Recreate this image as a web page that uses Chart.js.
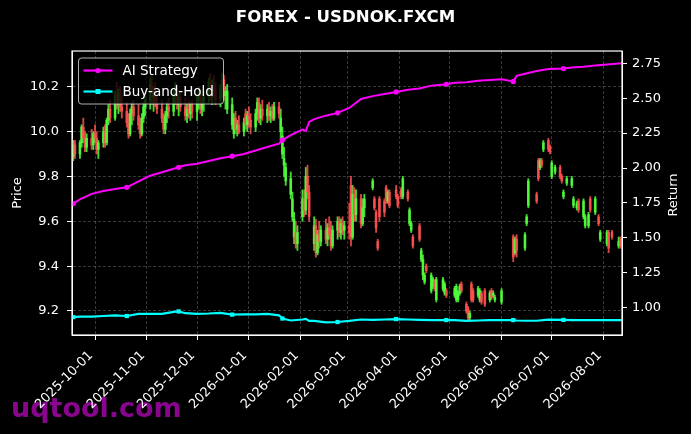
<!DOCTYPE html>
<html>
<head>
<meta charset="utf-8">
<script src="https://cdn.jsdelivr.net/npm/chart.js@4.4.1/dist/chart.umd.min.js"></script>
<style>
  html, body { margin: 0; padding: 0; background: #000; }
  #wrap { width: 691px; height: 434px; }
</style>
</head>
<body>
<div id="wrap"><canvas id="c" width="691" height="434"></canvas></div>
<script>
// ---------------- DATA ----------------
const chartTitle = 'FOREX - USDNOK.FXCM';
const seriesNames = ['AI Strategy', 'Buy-and-Hold'];

// daily candles: [date, open, high, low, close]
const candles = [
['2025-09-17',9.95,9.97,9.87,9.89],['2025-09-18',9.89,9.96,9.87,9.94],['2025-09-19',9.94,9.96,9.88,9.90],
['2025-09-22',9.90,9.96,9.88,9.95],['2025-09-23',9.95,10.03,9.93,10.02],['2025-09-24',10.02,10.06,9.95,9.97],
['2025-09-25',9.97,10.00,9.91,9.93],['2025-09-26',9.93,9.99,9.91,9.97],['2025-09-29',9.97,10.01,9.92,9.94],
['2025-09-30',9.94,10.00,9.92,9.99],['2025-10-01',9.99,10.03,9.95,9.97],['2025-10-02',9.97,10.00,9.90,9.92],
['2025-10-03',9.92,9.96,9.88,9.95],['2025-10-06',9.95,10.02,9.93,10.00],['2025-10-07',10.00,10.03,9.93,9.95],
['2025-10-08',9.95,10.06,9.94,10.05],['2025-10-09',10.05,10.12,10.03,10.10],['2025-10-10',10.10,10.14,10.04,10.06],
['2025-10-13',10.06,10.18,10.05,10.16],['2025-10-14',10.16,10.22,10.10,10.12],['2025-10-15',10.12,10.19,10.08,10.17],
['2025-10-16',10.17,10.20,10.09,10.11],['2025-10-17',10.11,10.16,10.06,10.09],['2025-10-20',10.09,10.13,10.02,10.04],
['2025-10-21',10.04,10.08,9.97,9.99],['2025-10-22',9.99,10.10,9.98,10.08],['2025-10-23',10.08,10.13,10.03,10.11],
['2025-10-24',10.11,10.14,10.05,10.07],['2025-10-27',10.07,10.12,10.01,10.03],['2025-10-28',10.03,10.06,9.97,9.99],
['2025-10-29',9.99,10.08,9.98,10.06],['2025-10-30',10.06,10.13,10.04,10.11],['2025-10-31',10.11,10.16,10.07,10.14],
['2025-11-03',10.14,10.24,10.10,10.21],['2025-11-04',10.21,10.25,10.12,10.15],['2025-11-05',10.15,10.20,10.09,10.18],
['2025-11-06',10.18,10.22,10.11,10.13],['2025-11-07',10.13,10.17,10.08,10.10],['2025-11-10',10.10,10.14,10.04,10.06],
['2025-11-11',10.06,10.08,9.99,10.01],['2025-11-12',10.01,10.09,9.99,10.07],['2025-11-13',10.07,10.13,10.04,10.11],
['2025-11-14',10.11,10.15,10.06,10.09],['2025-11-17',10.09,10.18,10.07,10.16],['2025-11-18',10.16,10.22,10.12,10.19],
['2025-11-19',10.19,10.21,10.10,10.12],['2025-11-20',10.12,10.17,10.07,10.15],['2025-11-21',10.15,10.18,10.09,10.11],
['2025-11-24',10.11,10.15,10.05,10.07],['2025-11-25',10.07,10.12,10.04,10.10],['2025-11-26',10.10,10.14,10.06,10.08],
['2025-11-27',10.08,10.13,10.05,10.12],['2025-11-28',10.12,10.14,10.06,10.09],['2025-12-01',10.09,10.16,10.05,10.14],
['2025-12-02',10.14,10.20,10.10,10.17],['2025-12-03',10.17,10.19,10.08,10.10],['2025-12-04',10.10,10.15,10.07,10.13],
['2025-12-05',10.13,10.18,10.09,10.16],['2025-12-08',10.16,10.24,10.13,10.22],['2025-12-09',10.22,10.26,10.14,10.17],
['2025-12-10',10.17,10.23,10.12,10.20],['2025-12-11',10.20,10.25,10.15,10.18],['2025-12-12',10.18,10.22,10.12,10.14],
['2025-12-15',10.14,10.21,10.11,10.19],['2025-12-16',10.19,10.26,10.15,10.23],['2025-12-17',10.23,10.25,10.14,10.16],
['2025-12-18',10.16,10.20,10.10,10.18],['2025-12-19',10.10,10.21,10.08,10.18],['2025-12-22',10.03,10.15,10.01,10.12],
['2025-12-23',9.99,10.08,9.97,10.06],['2025-12-24',10.06,10.09,9.99,10.01],['2025-12-25',10.01,10.05,9.98,10.03],
['2025-12-26',10.03,10.07,9.99,10.00],['2025-12-29',10.00,10.06,9.98,10.04],['2025-12-30',10.08,10.10,10.01,10.03],
['2025-12-31',10.03,10.09,10.00,10.07],['2026-01-01',10.07,10.11,10.02,10.05],['2026-01-02',10.05,10.08,9.99,10.02],
['2026-01-05',10.02,10.10,10.00,10.08],['2026-01-06',10.08,10.15,10.05,10.13],['2026-01-07',10.13,10.15,10.04,10.06],
['2026-01-08',10.06,10.12,10.03,10.10],['2026-01-09',10.10,10.14,10.05,10.07],['2026-01-12',10.07,10.12,10.04,10.10],
['2026-01-13',10.10,10.13,10.05,10.07],['2026-01-14',10.07,10.11,10.04,10.09],['2026-01-15',10.09,10.12,10.05,10.06],
['2026-01-16',10.06,10.13,10.05,10.11],['2026-01-19',10.11,10.13,10.06,10.08],['2026-01-20',10.00,10.10,9.96,10.06],
['2026-01-21',9.90,10.02,9.88,9.98],['2026-01-22',9.85,9.93,9.80,9.88],['2026-01-23',9.78,9.86,9.76,9.84],
['2026-01-26',9.72,9.82,9.70,9.79],['2026-01-27',9.62,9.73,9.60,9.70],['2026-01-28',9.53,9.64,9.50,9.61],
['2026-01-29',9.55,9.60,9.48,9.50],['2026-01-30',9.50,9.58,9.47,9.55],['2026-02-02',9.62,9.74,9.60,9.70],
['2026-02-03',9.70,9.74,9.62,9.65],['2026-02-04',9.65,9.84,9.63,9.80],['2026-02-05',9.80,9.85,9.70,9.73],
['2026-02-06',9.73,9.76,9.60,9.62],['2026-02-09',9.50,9.62,9.47,9.58],['2026-02-10',9.58,9.61,9.44,9.46],
['2026-02-11',9.46,9.56,9.45,9.54],['2026-02-12',9.54,9.60,9.48,9.51],['2026-02-13',9.51,9.58,9.49,9.56],
['2026-02-16',9.56,9.61,9.50,9.52],['2026-02-17',9.52,9.59,9.49,9.57],['2026-02-18',9.57,9.62,9.52,9.54],
['2026-02-19',9.54,9.60,9.47,9.49],['2026-02-20',9.49,9.58,9.48,9.56],['2026-02-23',9.56,9.62,9.52,9.60],
['2026-02-24',9.60,9.62,9.53,9.55],['2026-02-25',9.55,9.61,9.52,9.59],['2026-02-26',9.59,9.62,9.54,9.56],
['2026-02-27',9.56,9.60,9.52,9.58],['2026-03-02',9.58,9.68,9.52,9.55],['2026-03-03',9.76,9.80,9.49,9.53],
['2026-03-04',9.53,9.76,9.52,9.72],['2026-03-05',9.72,9.75,9.60,9.63],['2026-03-06',9.63,9.74,9.60,9.70],
['2026-03-09',9.70,9.72,9.57,9.59],['2026-03-10',9.59,9.70,9.58,9.66],['2026-03-11',9.66,9.72,9.62,9.70],
['2026-03-16',9.75,9.79,9.74,9.78],['2026-03-17',9.70,9.71,9.65,9.66],['2026-03-18',9.64,9.65,9.55,9.57],
['2026-03-19',9.51,9.52,9.47,9.48],['2026-03-20',9.70,9.71,9.60,9.62],['2026-03-23',9.69,9.70,9.62,9.64],
['2026-03-24',9.75,9.76,9.68,9.70],['2026-03-25',9.69,9.74,9.68,9.73],['2026-03-26',9.73,9.74,9.66,9.67],
['2026-03-30',9.74,9.76,9.70,9.71],['2026-03-31',9.71,9.72,9.66,9.67],['2026-04-02',9.74,9.75,9.70,9.71],
['2026-04-03',9.71,9.80,9.70,9.79],['2026-04-06',9.73,9.74,9.69,9.70],['2026-04-07',9.59,9.66,9.58,9.65],
['2026-04-08',9.56,9.60,9.55,9.59],['2026-04-09',9.53,9.54,9.48,9.49],['2026-04-13',9.58,9.59,9.51,9.52],
['2026-04-14',9.43,9.48,9.42,9.47],['2026-04-15',9.36,9.45,9.34,9.43],['2026-04-16',9.33,9.37,9.32,9.36],
['2026-04-17',9.40,9.41,9.37,9.38],['2026-04-20',9.29,9.37,9.28,9.36],['2026-04-21',9.31,9.35,9.30,9.34],
['2026-04-22',9.33,9.34,9.29,9.30],['2026-04-23',9.25,9.35,9.24,9.34],['2026-04-27',9.30,9.35,9.29,9.34],
['2026-04-28',9.28,9.33,9.27,9.32],['2026-04-29',9.29,9.30,9.26,9.27],['2026-05-04',9.27,9.31,9.26,9.30],
['2026-05-05',9.25,9.32,9.24,9.31],['2026-05-06',9.25,9.29,9.24,9.28],['2026-05-07',9.28,9.32,9.27,9.31],
['2026-05-08',9.32,9.33,9.28,9.29],['2026-05-11',9.23,9.24,9.19,9.20],['2026-05-12',9.21,9.22,9.16,9.17],
['2026-05-13',9.17,9.20,9.16,9.19],['2026-05-14',9.32,9.33,9.24,9.25],['2026-05-15',9.29,9.30,9.24,9.25],
['2026-05-18',9.27,9.31,9.26,9.30],['2026-05-19',9.25,9.30,9.24,9.29],['2026-05-20',9.28,9.29,9.23,9.24],
['2026-05-22',9.29,9.30,9.22,9.23],['2026-05-25',9.25,9.29,9.24,9.28],['2026-05-26',9.29,9.30,9.25,9.26],
['2026-05-27',9.27,9.29,9.26,9.28],['2026-05-28',9.25,9.27,9.24,9.26],['2026-06-01',9.24,9.30,9.23,9.29],
['2026-06-08',9.53,9.54,9.42,9.44],['2026-06-09',9.46,9.53,9.45,9.52],['2026-06-10',9.52,9.54,9.44,9.47],
['2026-06-15',9.48,9.55,9.47,9.54],['2026-06-16',9.59,9.63,9.58,9.62],['2026-06-17',9.67,9.79,9.66,9.78],
['2026-06-22',9.72,9.73,9.68,9.69],['2026-06-23',9.87,9.88,9.78,9.79],['2026-06-24',9.84,9.88,9.83,9.87],
['2026-06-25',9.87,9.88,9.84,9.85],['2026-06-26',9.92,9.96,9.91,9.95],['2026-06-29',9.96,9.97,9.91,9.92],
['2026-06-30',9.93,9.94,9.90,9.91],['2026-07-01',9.80,9.87,9.79,9.86],['2026-07-03',9.82,9.85,9.81,9.84],
['2026-07-06',9.84,9.85,9.79,9.80],['2026-07-07',9.80,9.81,9.77,9.78],['2026-07-08',9.71,9.74,9.70,9.73],
['2026-07-10',9.77,9.80,9.76,9.79],['2026-07-13',9.76,9.80,9.75,9.79],['2026-07-14',9.67,9.71,9.66,9.70],
['2026-07-16',9.66,9.69,9.65,9.68],['2026-07-17',9.69,9.70,9.64,9.65],['2026-07-20',9.62,9.70,9.61,9.69],
['2026-07-21',9.58,9.63,9.57,9.62],['2026-07-23',9.58,9.64,9.57,9.63],['2026-07-24',9.70,9.71,9.64,9.65],
['2026-07-27',9.64,9.71,9.63,9.70],['2026-07-29',9.62,9.63,9.58,9.59],['2026-07-30',9.52,9.56,9.51,9.55],
['2026-08-03',9.50,9.56,9.49,9.55],['2026-08-04',9.55,9.56,9.46,9.48],['2026-08-06',9.55,9.56,9.52,9.53],
['2026-08-10',9.49,9.53,9.48,9.51],['2026-08-11',9.52,9.53,9.48,9.49]
];

// strategy / benchmark cumulative return (right axis)
const lineDates = ['2025-09-17','2025-09-18','2025-09-22','2025-09-29','2025-10-06','2025-10-13','2025-10-20','2025-10-27',
  '2025-11-03','2025-11-10','2025-11-17','2025-11-20','2025-11-24','2025-12-01','2025-12-08','2025-12-15','2025-12-22',
  '2025-12-29','2026-01-05','2026-01-12','2026-01-19','2026-01-21','2026-01-26','2026-02-02','2026-02-04','2026-02-06',
  '2026-02-09','2026-02-16','2026-02-23','2026-03-02','2026-03-09','2026-03-16','2026-03-23','2026-03-30','2026-04-06',
  '2026-04-13','2026-04-20','2026-04-29','2026-05-04','2026-05-11','2026-05-18','2026-05-25','2026-06-01','2026-06-08',
  '2026-06-10','2026-06-15','2026-06-22','2026-06-29','2026-07-08','2026-07-13','2026-07-20','2026-07-27','2026-08-03',
  '2026-08-12'];
const aiReturn = [1.735,1.745,1.775,1.815,1.835,1.850,1.862,1.905,
  1.945,1.970,1.995,2.005,2.020,2.030,2.050,2.070,2.085,
  2.100,2.125,2.150,2.175,2.200,2.235,2.275,2.265,2.330,
  2.350,2.375,2.395,2.430,2.495,2.515,2.530,2.545,2.560,
  2.570,2.590,2.600,2.610,2.615,2.625,2.630,2.635,2.620,
  2.660,2.675,2.695,2.710,2.712,2.720,2.725,2.735,2.742,
  2.750];
const bhReturn = [0.930,0.932,0.935,0.935,0.940,0.945,0.940,0.955,
  0.955,0.955,0.970,0.973,0.960,0.955,0.958,0.963,0.950,
  0.952,0.952,0.955,0.945,0.922,0.908,0.915,0.920,0.905,
  0.905,0.895,0.897,0.905,0.915,0.912,0.915,0.918,0.915,
  0.912,0.910,0.911,0.910,0.905,0.908,0.911,0.911,0.911,
  0.908,0.906,0.906,0.914,0.912,0.911,0.911,0.911,0.911,
  0.911];
const markerDates = ['2025-09-18','2025-10-20','2025-11-20','2025-12-22','2026-01-21','2026-02-23',
  '2026-03-30','2026-04-29','2026-06-08','2026-07-08'];

// x-axis tick labels (month starts)
const monthTicks = ['2025-10-01','2025-11-01','2025-12-01','2026-01-01','2026-02-01','2026-03-01',
  '2026-04-01','2026-05-01','2026-06-01','2026-07-01','2026-08-01'];

// ---------------- HELPERS ----------------
const EPOCH = Date.parse('2025-10-01T00:00:00Z');
const dayNum = s => Math.round((Date.parse(s + 'T00:00:00Z') - EPOCH) / 86400000);
const tickLabel = new Map(monthTicks.map(d => [dayNum(d), d]));
const markerSet = new Set(markerDates.map(dayNum));

const UP = 'rgba(80,255,60,0.85)';
const DOWN = 'rgba(255,80,80,0.85)';
const candleColor = ctx => {
  const c = candles[ctx.dataIndex];
  return c && c[4] >= c[1] ? UP : DOWN;
};
const FONT = 'DejaVu Sans';
Chart.defaults.font.family = FONT;
Chart.defaults.color = '#ffffff';

const GRID = 'rgba(255,255,255,0.28)';

// ---------------- PLUGINS ----------------
const bgPlugin = {
  id: 'bg',
  beforeDraw(chart) {
    const c = chart.ctx;
    c.save();
    c.fillStyle = '#000';
    c.fillRect(0, 0, chart.width, chart.height);
    c.fillStyle = 'rgba(145,5,150,0.95)';
    c.font = 'bold 27px "DejaVu Sans"';
    c.textBaseline = 'alphabetic';
    c.textAlign = 'left';
    c.fillText('uqtool.com', 11, 417);
    c.restore();
  }
};

const framePlugin = {
  id: 'frame',
  afterDatasetsDraw(chart) {
    const {ctx, chartArea: a} = chart;
    ctx.save();
    ctx.strokeStyle = '#ffffff';
    ctx.lineWidth = 1.2;
    ctx.strokeRect(a.left, a.top, a.right - a.left, a.bottom - a.top);

    // Right axis title (reads bottom-to-top)
    ctx.fillStyle = '#ffffff';
    ctx.font = '13px "DejaVu Sans"';
    ctx.textAlign = 'center';
    ctx.textBaseline = 'middle';
    ctx.translate(674, (a.top + a.bottom) / 2 + 2);
    ctx.rotate(-Math.PI / 2);
    ctx.fillText('Return', 0, 0);
    ctx.restore();

    // Legend box (upper left, inside plot)
    const lx = a.left + 6.5, ly = a.top + 7, lw = 145, lh = 46, r = 3;
    ctx.save();
    ctx.beginPath();
    ctx.moveTo(lx + r, ly);
    ctx.lineTo(lx + lw - r, ly);
    ctx.quadraticCurveTo(lx + lw, ly, lx + lw, ly + r);
    ctx.lineTo(lx + lw, ly + lh - r);
    ctx.quadraticCurveTo(lx + lw, ly + lh, lx + lw - r, ly + lh);
    ctx.lineTo(lx + r, ly + lh);
    ctx.quadraticCurveTo(lx, ly + lh, lx, ly + lh - r);
    ctx.lineTo(lx, ly + r);
    ctx.quadraticCurveTo(lx, ly, lx + r, ly);
    ctx.closePath();
    ctx.fillStyle = 'rgba(0,0,0,0.8)';
    ctx.fill();
    ctx.strokeStyle = 'rgba(220,220,220,0.8)';
    ctx.lineWidth = 1;
    ctx.stroke();

    const lineDs = chart.data.datasets.filter(d => d.type === 'line');
    lineDs.forEach((ds, i) => {
      const yy = ly + 12.5 + i * 21;
      ctx.strokeStyle = ds.borderColor;
      ctx.lineWidth = 2.2;
      ctx.beginPath();
      ctx.moveTo(lx + 5, yy);
      ctx.lineTo(lx + 34, yy);
      ctx.stroke();
      ctx.fillStyle = ds.borderColor;
      if (ds.pointStyle === 'rect') {
        ctx.fillRect(lx + 19.5 - 2.5, yy - 2.5, 5, 5);
      } else {
        ctx.beginPath();
        ctx.arc(lx + 19.5, yy, 2.6, 0, Math.PI * 2);
        ctx.fill();
      }
      ctx.fillStyle = '#ffffff';
      ctx.font = '13.5px "DejaVu Sans"';
      ctx.textAlign = 'left';
      ctx.textBaseline = 'middle';
      ctx.fillText(ds.label, lx + 44, yy + 0.5);
    });
    ctx.restore();
  }
};

// ---------------- CHART ----------------
const wickData = candles.map(c => ({x: dayNum(c[0]), y: [c[3], c[2]]}));
const bodyData = candles.map(c => ({x: dayNum(c[0]), y: [c[1], c[4]]}));
const aiData = lineDates.map((d, i) => ({x: dayNum(d), y: aiReturn[i]}));
const bhData = lineDates.map((d, i) => ({x: dayNum(d), y: bhReturn[i]}));
const markerRadius = r => ctx => {
  const p = ctx.raw;
  return p && markerSet.has(p.x) ? r : 0;
};

new Chart(document.getElementById('c'), {
  type: 'bar',
  data: {
    datasets: [
      { type: 'bar', label: 'wick', data: wickData, yAxisID: 'y', backgroundColor: candleColor,
        barThickness: 1.2, grouped: false, borderWidth: 0, order: 3 },
      { type: 'bar', label: 'body', data: bodyData, yAxisID: 'y', backgroundColor: candleColor,
        barThickness: 2, grouped: false, borderWidth: 0, minBarLength: 1, order: 2 },
      { type: 'line', label: seriesNames[0], data: aiData, yAxisID: 'y2', borderColor: '#ff00ff',
        backgroundColor: '#ff00ff', borderWidth: 2, tension: 0, pointStyle: 'circle',
        pointRadius: markerRadius(2.6), pointBorderWidth: 0, pointBackgroundColor: '#ff00ff', order: 1 },
      { type: 'line', label: seriesNames[1], data: bhData, yAxisID: 'y2', borderColor: '#00ffff',
        backgroundColor: '#00ffff', borderWidth: 2.2, tension: 0, pointStyle: 'rect',
        pointRadius: markerRadius(3), pointBorderWidth: 0, pointBackgroundColor: '#00ffff', order: 0 }
    ]
  },
  options: {
    responsive: false,
    animation: false,
    devicePixelRatio: 1,
    layout: { padding: 0 },
    plugins: {
      legend: { display: false },
      tooltip: { enabled: false },
      title: {
        display: true, text: chartTitle, color: '#ffffff',
        font: { family: FONT, size: 16.6, weight: 'bold' },
        padding: { top: 8, bottom: 23.1 }
      }
    },
    scales: {
      x: {
        type: 'linear', position: 'bottom', offset: false,
        min: dayNum('2025-09-17') + 0.25, max: dayNum('2026-08-12'),
        grid: { color: GRID, lineWidth: 0.8, offset: false, drawOnChartArea: true,
                tickColor: '#ffffff', tickLength: 5, tickWidth: 1 },
        border: { display: true, color: '#ffffff', width: 1, dash: [3, 2] },
        ticks: { color: '#ffffff', font: { family: FONT, size: 13 }, autoSkip: false,
                 maxRotation: 45, minRotation: 45, padding: 8, labelOffset: -4,
                 callback: v => tickLabel.get(v) || '' },
        afterBuildTicks: s => { s.ticks = monthTicks.map(d => ({ value: dayNum(d) })); },
        afterFit: s => { s.height = 99; }
      },
      y: {
        type: 'linear', position: 'left', min: 9.093, max: 10.359, beginAtZero: false,
        grid: { color: GRID, lineWidth: 0.8, drawOnChartArea: true, tickColor: '#ffffff', tickLength: 5, tickWidth: 1 },
        border: { display: true, color: '#ffffff', width: 1, dash: [3, 2] },
        ticks: { stepSize: 0.2, includeBounds: false, color: '#ffffff', font: { family: FONT, size: 13 }, padding: 8,
                 callback: v => Number(v).toFixed(1) },
        title: { display: true, text: 'Price', color: '#ffffff', font: { family: FONT, size: 13 },
                 padding: { top: 10, bottom: 0 } },
        afterFit: s => { s.width = 72; }
      },
      y2: {
        type: 'linear', position: 'right', min: 0.804, max: 2.838,
        grid: { drawOnChartArea: false, tickColor: '#ffffff', tickLength: 5, tickWidth: 1 },
        border: { display: true, color: '#ffffff', width: 1 },
        ticks: { stepSize: 0.25, includeBounds: false, color: '#ffffff', font: { family: FONT, size: 13 }, padding: 5,
                 callback: v => Number(v).toFixed(2) },
        afterFit: s => { s.width = 69; }
      }
    }
  },
  plugins: [bgPlugin, framePlugin]
});
</script>
</body>
</html>
